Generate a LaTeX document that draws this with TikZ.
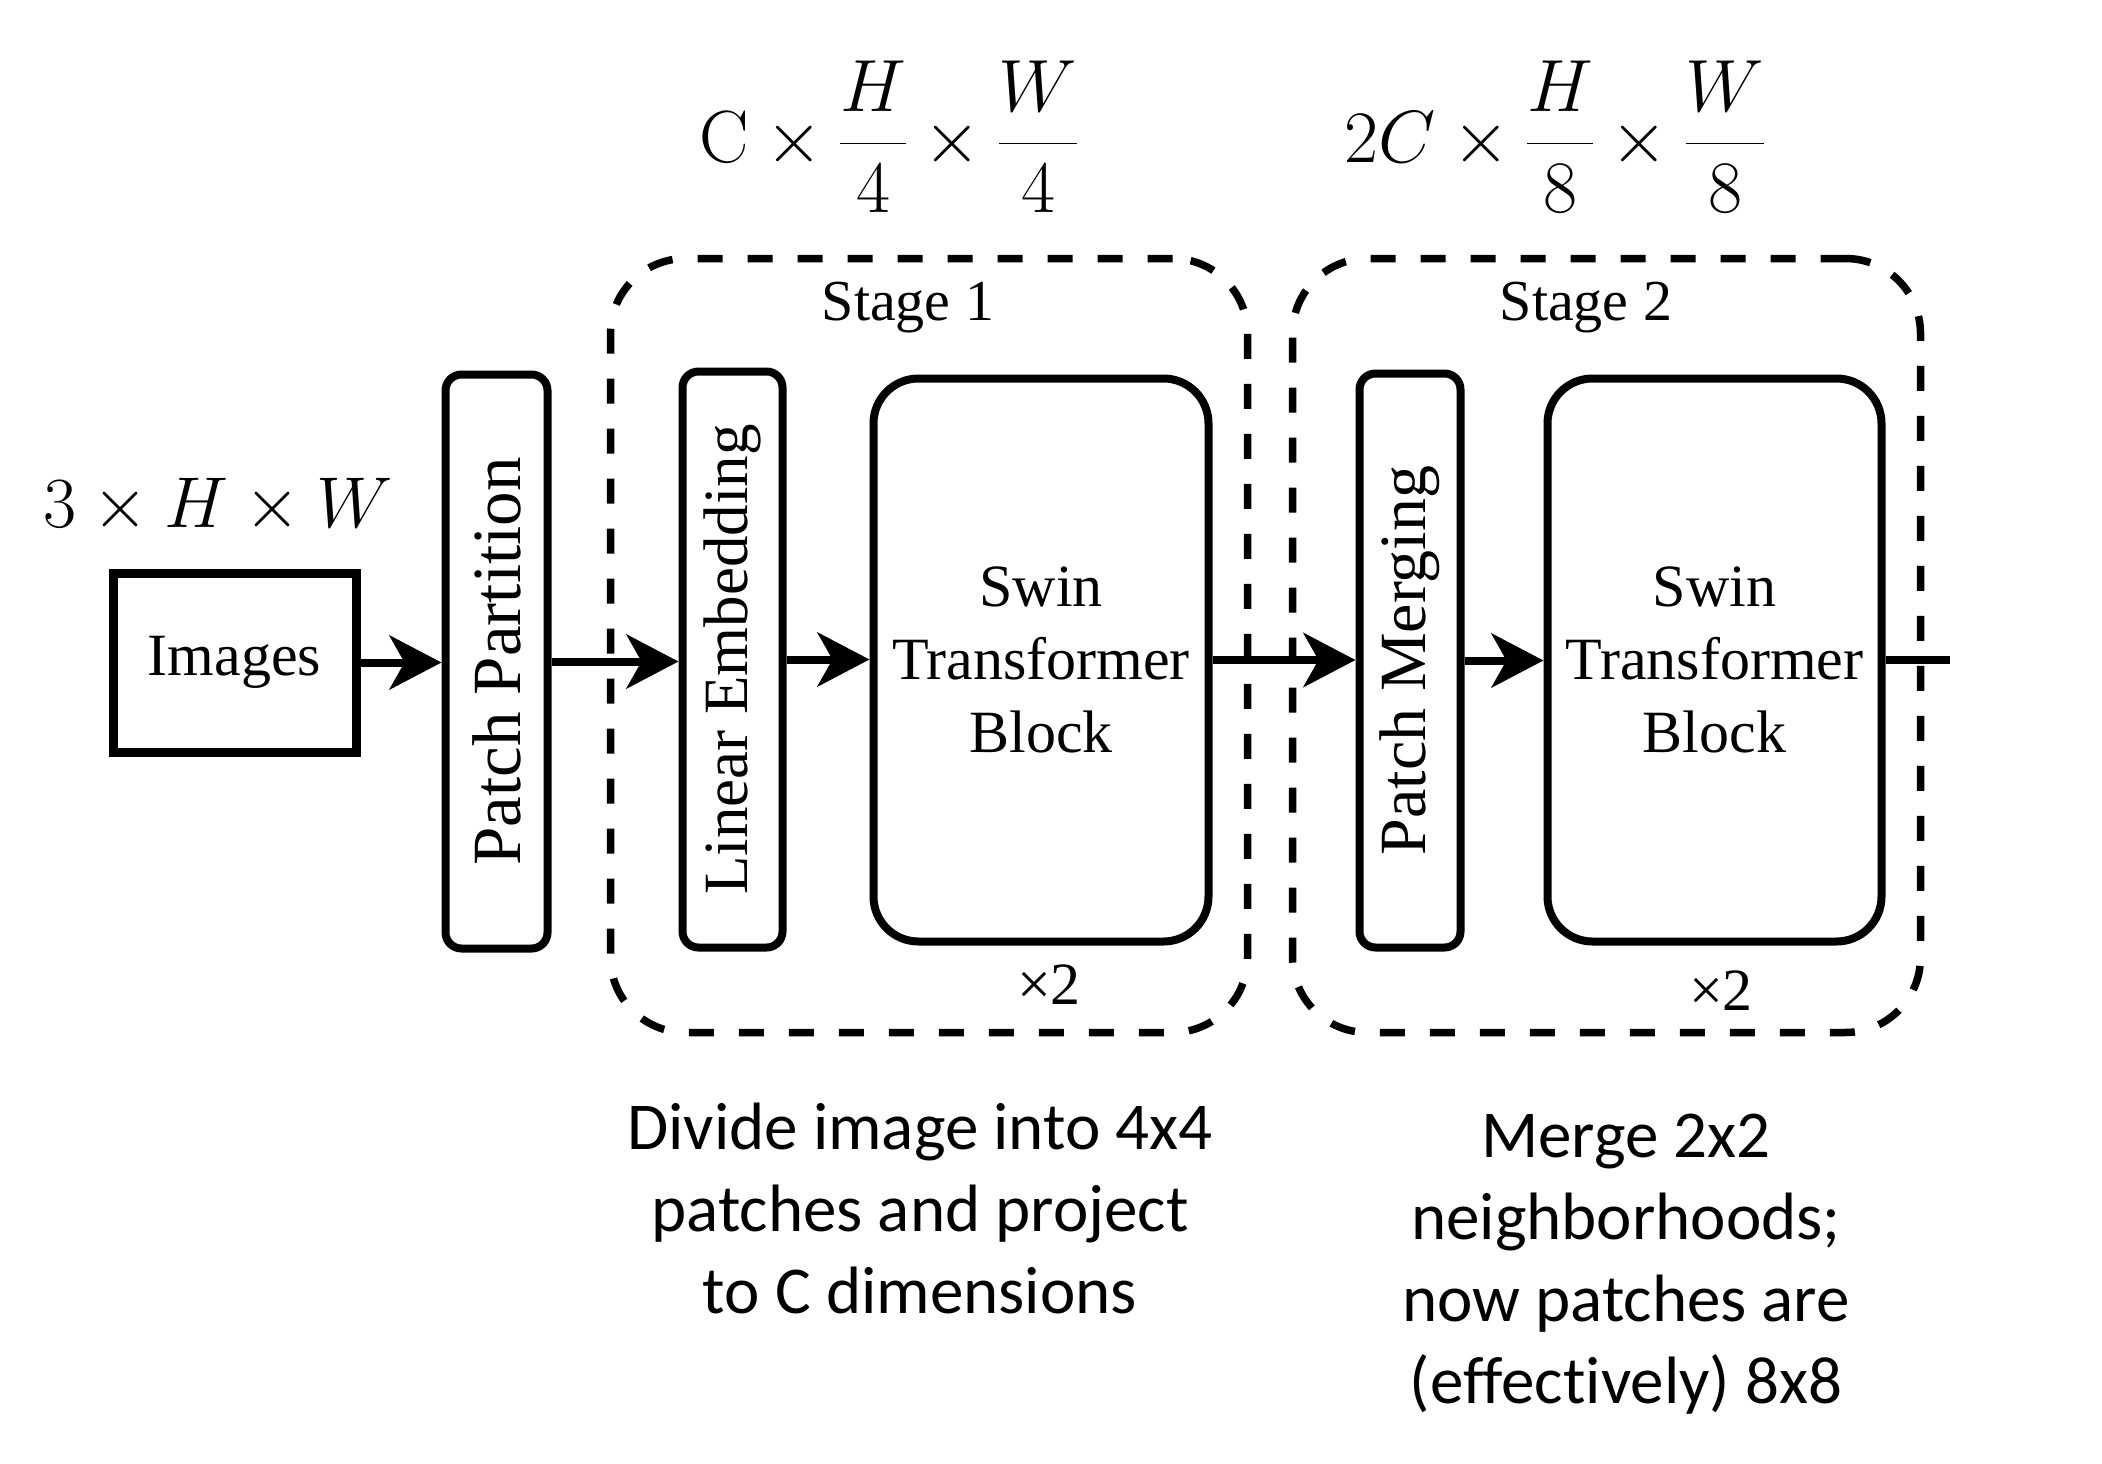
\RequirePackage{fix-cm}
\documentclass[tikz,border=0pt]{standalone}
\usepackage[no-math]{fontspec}
\setmainfont{Liberation Serif}
\newfontfamily\calib[Ligatures=NoCommon]{Carlito}
\usetikzlibrary{arrows.meta}
\begin{document}
\begin{tikzpicture}[x=1pt,y=-1pt,
  box/.style={draw, line width=8pt, inner sep=0pt, rectangle},
  stagebox/.style={draw, line width=7.5pt, dash pattern=on 25pt off 25pt, rounded corners=75pt, rectangle, inner sep=0pt},
  swinbox/.style={box, rounded corners=45pt, minimum width=335pt, minimum height=563pt,
    align=center, font=\fontsize{60}{73}\selectfont},
  thinbox/.style={box, rounded corners=16pt},
  vtext/.style={rotate=90, inner sep=0pt},
  lbl/.style={inner sep=0pt},
  note/.style={inner sep=0pt, align=center, font=\calib\fontsize{67}{82}\selectfont},
  arr/.style={line width=8pt, -{Stealth[length=52pt,width=54pt,inset=15pt]}}]
\useasboundingbox (0,0) rectangle (2102,1464);

% stage frames
\node[stagebox, minimum width=637pt, minimum height=774pt] (st1) at (929,645.5) {};
\node[stagebox, minimum width=628pt, minimum height=774pt] (st2) at (1606.5,645.5) {};

% blocks
\node[box, line width=9pt, minimum width=243pt, minimum height=179pt, font=\fontsize{60}{72}\selectfont] (img) at (234.5,662.5) {Images};
\node[thinbox, minimum width=102pt, minimum height=574pt] (pp) at (496.5,661.5) {};
\node[thinbox, minimum width=100pt, minimum height=576pt] (le) at (732.5,659.5) {};
\node[swinbox] (sw1) at (1041,660) {Swin\\Transformer\\Block};
\node[thinbox, minimum width=101pt, minimum height=574pt] (pm) at (1410,660.5) {};
\node[swinbox, minimum width=334pt] (sw2) at (1714.5,660) {Swin\\Transformer\\Block};

% rotated labels
\node[vtext, font=\fontsize{69}{80}\selectfont] (ppt) at (pp.center) {Patch Partition};
\node[vtext, font=\fontsize{63}{75}\selectfont] (let) at (le.center) {Linear Embedding};
\node[vtext, font=\fontsize{66}{78}\selectfont] (pmt) at (pm.center) {Patch Merging};

% stage labels and repeat marks
\node[lbl, anchor=base, font=\fontsize{58}{70}\selectfont] (s1l) at (908,320) {Stage 1};
\node[lbl, anchor=base, font=\fontsize{58}{70}\selectfont] (s2l) at (1586,320) {Stage 2};
\node[lbl, anchor=base, font=\fontsize{60}{72}\selectfont] (x1) at (1049,1004) {×2};
\node[lbl, anchor=base, font=\fontsize{60}{72}\selectfont] (x2) at (1721,1010) {×2};

% dimensions
\node[lbl, anchor=base, font=\fontsize{72}{86}\selectfont] (d0) at (218,527) {$3\times H\times W$};
\node[lbl, anchor=base, font=\fontsize{74}{88}\selectfont] (d1) at (889,162) {$\displaystyle \mathrm{C}\times\frac{H}{4}\times\frac{W}{4}$};
\node[lbl, anchor=base, font=\fontsize{74}{88}\selectfont] (d2) at (1555,162) {$\displaystyle 2C\times\frac{H}{8}\times\frac{W}{8}$};

% notes
\node[note, anchor=north] (n1) at (920,1103) {Divide image into 4x4\\patches and project\\to C dimensions};
\node[note, anchor=north] (n2) at (1626,1114) {Merge 2x2\\neighborhoods;\\now patches are\\(effectively) 8x8};

% connectors
\coordinate (out) at (1950,660);
\draw[arr] (img.east) -- (img.east -| pp.west);
\draw[arr] (pp.east) -- (pp.east -| le.west);
\draw[arr] (le.east) -- (le.east -| sw1.west);
\draw[arr] (sw1.east) -- (sw1.east -| pm.west);
\draw[arr] (pm.east) -- (pm.east -| sw2.west);
\draw[line width=8pt] (sw2.east) -- (out);
\end{tikzpicture}
\end{document}
